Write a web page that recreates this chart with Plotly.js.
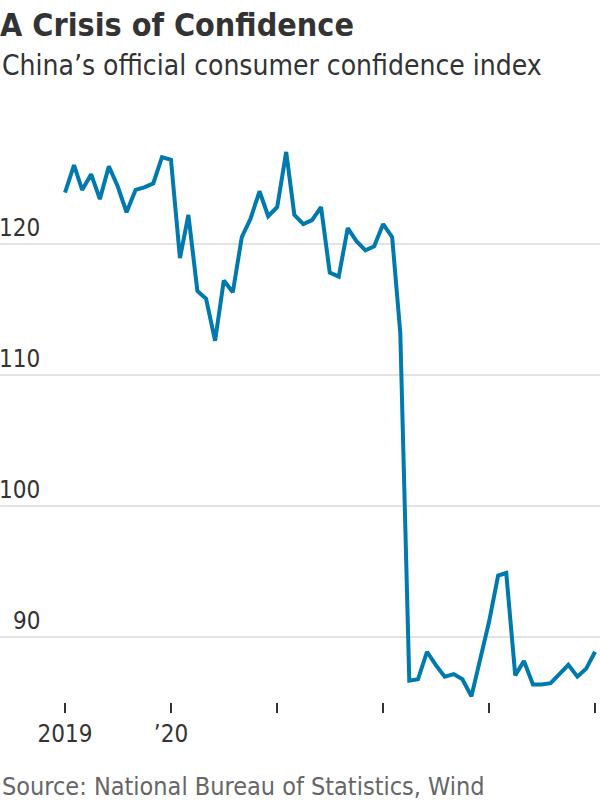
<!DOCTYPE html>
<html>
<head>
<meta charset="utf-8">
<script src="https://cdn.plot.ly/plotly-3.0.1.min.js"></script>
<style>html,body{margin:0;padding:0;background:#fff;}#chart{width:600px;height:800px;}</style>
</head>
<body>
<div id="chart"></div>
<script>
const months = [
 '2019-01','2019-02','2019-03','2019-04','2019-05','2019-06','2019-07','2019-08','2019-09','2019-10','2019-11','2019-12',
 '2020-01','2020-02','2020-03','2020-04','2020-05','2020-06','2020-07','2020-08','2020-09','2020-10','2020-11','2020-12',
 '2021-01','2021-02','2021-03','2021-04','2021-05','2021-06','2021-07','2021-08','2021-09','2021-10','2021-11','2021-12',
 '2022-01','2022-02','2022-03','2022-04','2022-05','2022-06','2022-07','2022-08','2022-09','2022-10','2022-11','2022-12',
 '2023-01','2023-02','2023-03','2023-04','2023-05','2023-06','2023-07','2023-08','2023-09','2023-10','2023-11','2023-12',
 '2024-01'
];
const confidence = [
 123.9,126.0,124.1,125.3,123.4,125.9,124.4,122.4,124.1,124.3,124.6,126.6,
 126.4,118.9,122.2,116.4,115.8,112.6,117.2,116.3,120.5,121.9,124.0,122.1,
 122.8,127.0,122.2,121.5,121.8,122.8,117.8,117.5,121.2,120.2,119.5,119.8,
 121.5,120.5,113.2,86.7,86.8,88.9,87.9,87.0,87.2,86.8,85.5,88.3,
 91.2,94.7,94.9,87.1,88.2,86.4,86.4,86.5,87.2,87.9,87.0,87.6,
 88.9
];
const xTickVals = ['2019-01-01','2020-01-01','2021-01-01','2022-01-01','2023-01-01','2024-01-01'];
const xTickText = ['2019','\u201920','','','',''];
const yTickVals = [90,100,110,120];
const yTickText = ['90','100','110','120'];

const FONT = '"Liberation Sans Narrow", "DejaVu Sans Condensed", "Roboto", sans-serif';

const trace = {
  x: months, y: confidence, type: 'scatter', mode: 'lines',
  line: {color: '#0079ad', width: 4},
  hoverinfo: 'skip'
};

const annotations = yTickVals.map((v, i) => ({
  xref: 'paper', yref: 'y', x: 0.068, y: v, text: yTickText[i],
  xanchor: 'right', yanchor: 'bottom', showarrow: false, yshift: 1, borderpad: 0,
  font: {family: FONT, size: 24, color: '#333'}
}));
annotations.push({
  xref: 'paper', yref: 'paper', x: 0, y: 1, yshift: 46, xanchor: 'left', yanchor: 'bottom',
  text: 'China\u2019s official consumer confidence index', showarrow: false,
  font: {family: FONT, size: 28, color: '#333'}
});
annotations.push({
  xref: 'paper', yref: 'paper', x: 0, y: 0, yshift: -68, xanchor: 'left', yanchor: 'top',
  text: 'Source: National Bureau of Statistics, Wind', showarrow: false,
  font: {family: FONT, size: 25, color: '#666'}
});

const layout = {
  width: 600, height: 800,
  margin: {l: 0, r: 0, t: 130, b: 98, pad: 0},
  paper_bgcolor: '#fff', plot_bgcolor: '#fff',
  showlegend: false,
  title: {
    text: '<b>A Crisis of Confidence</b>',
    x: 0, xanchor: 'left', xref: 'paper', y: 0.9825, yanchor: 'top', yref: 'container',
    font: {family: FONT, size: 32, color: '#333'}
  },
  xaxis: {
    type: 'date', autorange: false, range: ['2018-05-22', '2024-01-18'],
    tickmode: 'array', tickvals: xTickVals, ticktext: xTickText,
    ticks: 'outside', ticklen: 10, tickwidth: 2, tickcolor: '#333',
    showgrid: false, zeroline: false, showline: false,
    tickfont: {family: FONT, size: 24, color: '#333'}, fixedrange: true
  },
  yaxis: {
    autorange: false, range: [85.07, 128.67], tickmode: 'array', tickvals: yTickVals,
    showticklabels: false, showgrid: true, gridcolor: '#e3e3e3', gridwidth: 2,
    zeroline: false, showline: false, ticks: '', fixedrange: true
  },
  annotations: annotations
};

Plotly.newPlot('chart', [trace], layout, {displayModeBar: false, staticPlot: true});
</script>
</body>
</html>
